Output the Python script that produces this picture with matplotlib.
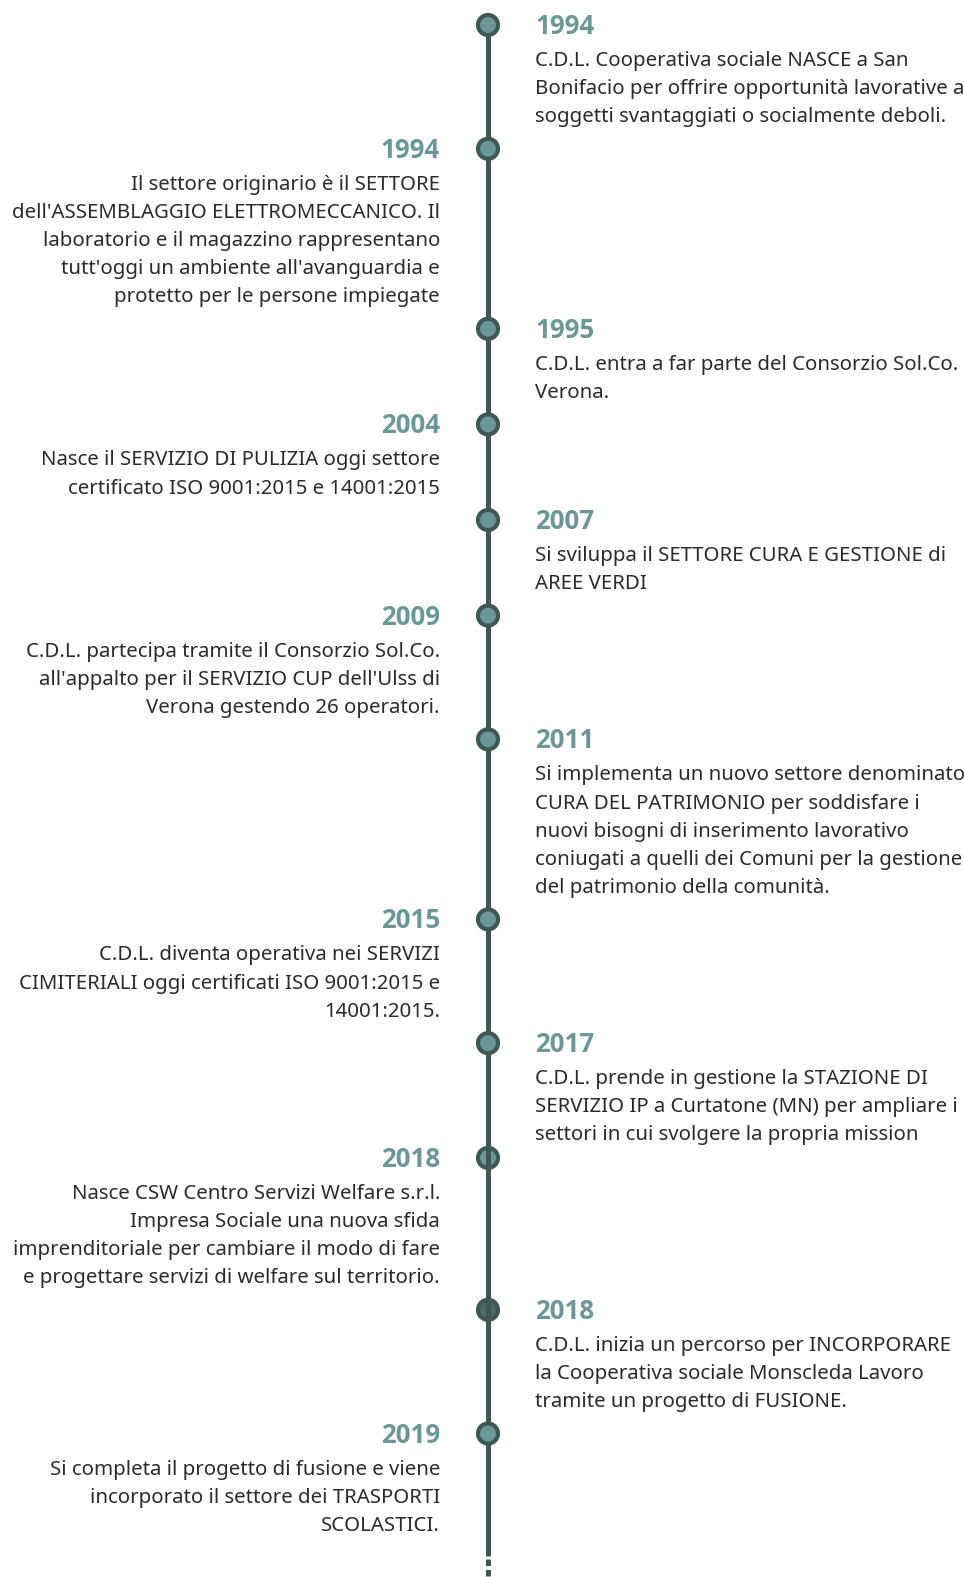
import matplotlib.pyplot as plt
from matplotlib.patches import Circle

plt.rcParams['font.family'] = ['Noto Sans', 'DejaVu Sans']

years = ["1994", "1994", "1995", "2004", "2007", "2009",
         "2011", "2015", "2017", "2018", "2018", "2019"]

sides = ["right", "left", "right", "left", "right", "left",
         "right", "left", "right", "left", "right", "left"]

texts = [
    ["C.D.L. Cooperativa sociale NASCE a San",
     "Bonifacio per offrire opportunità lavorative a",
     "soggetti svantaggiati o socialmente deboli."],
    ["Il settore originario è il SETTORE",
     "dell'ASSEMBLAGGIO ELETTROMECCANICO. Il",
     "laboratorio e il magazzino rappresentano",
     "tutt'oggi un ambiente all'avanguardia e",
     "protetto per le persone impiegate"],
    ["C.D.L. entra a far parte del Consorzio Sol.Co.",
     "Verona."],
    ["Nasce il SERVIZIO DI PULIZIA oggi settore",
     "certificato ISO 9001:2015 e 14001:2015"],
    ["Si sviluppa il SETTORE CURA E GESTIONE di",
     "AREE VERDI"],
    ["C.D.L. partecipa tramite il Consorzio Sol.Co.",
     "all'appalto per il SERVIZIO CUP dell'Ulss di",
     "Verona gestendo 26 operatori."],
    ["Si implementa un nuovo settore denominato",
     "CURA DEL PATRIMONIO per soddisfare i",
     "nuovi bisogni di inserimento lavorativo",
     "coniugati a quelli dei Comuni per la gestione",
     "del patrimonio della comunità."],
    ["C.D.L. diventa operativa nei SERVIZI",
     "CIMITERIALI oggi certificati ISO 9001:2015 e",
     "14001:2015."],
    ["C.D.L. prende in gestione la STAZIONE DI",
     "SERVIZIO IP a Curtatone (MN) per ampliare i",
     "settori in cui svolgere la propria mission"],
    ["Nasce CSW Centro Servizi Welfare s.r.l.",
     "Impresa Sociale una nuova sfida",
     "imprenditoriale per cambiare il modo di fare",
     "e progettare servizi di welfare sul territorio."],
    ["C.D.L. inizia un percorso per INCORPORARE",
     "la Cooperativa sociale Monscleda Lavoro",
     "tramite un progetto di FUSIONE."],
    ["Si completa il progetto di fusione e viene",
     "incorporato il settore dei TRASPORTI",
     "SCOLASTICI."],
]

# layout (pixels)
W, H = 964, 1577
line_x = 488
top = 25
base_gap = 39.3
line_h = 28.15
gap_fix = [0, 0, 0, 0, 0, 0, 0, 0, -9, 0, 0, 0]

dark = "#3e5755"
teal = "#6a9896"
txt_col = "#2b2b2b"

fig = plt.figure(figsize=(W / 100, H / 100), dpi=100)
ax = fig.add_axes([0, 0, 1, 1])
ax.set_xlim(0, W)
ax.set_ylim(H, 0)
ax.axis('off')

# marker positions from the text block heights
ys = []
y = top
for i, t in enumerate(texts):
    ys.append(y)
    y += base_gap + line_h * len(t) + gap_fix[i]

ax.plot([line_x, line_x], [top, 1556], color=dark, lw=3.6, solid_capstyle='butt', zorder=1)
ax.plot([line_x, line_x], [1559, 1577], color=dark, lw=3.6, ls=(0, (1.3, 0.8)), zorder=1)

for i, (yr, side, t) in enumerate(zip(years, sides, texts)):
    y0 = ys[i]
    z = 3 if i not in (9, 10) else 0.5
    fc = teal if i != 10 else "#4d6866"
    ax.add_patch(Circle((line_x, y0), 10, facecolor=fc, edgecolor=dark, lw=3, zorder=z))
    if side == "right":
        x, ha = 535, "left"
    else:
        x, ha = 440, "right"
    ax.text(x, y0 + 9, yr, ha=ha, va="baseline", fontsize=18.6, fontweight="bold",
            color=teal, family=['Open Sans', 'DejaVu Sans'])
    for k, ln in enumerate(t):
        ax.text(x, y0 + 34 + line_h * k + 7, ln, ha=ha, va="baseline", fontsize=14.7, color=txt_col)

fig.savefig("out.png", dpi=100, facecolor="white")
